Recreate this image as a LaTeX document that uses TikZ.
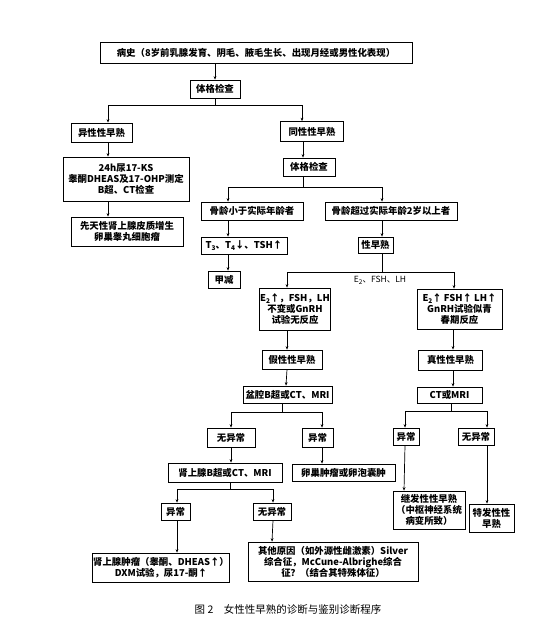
\documentclass[tikz,border=0pt]{standalone}
\usepackage{fontspec}
\newfontfamily\cjk{Noto Sans CJK SC}
\usetikzlibrary{arrows.meta}
\newcommand\mysub[1]{\raisebox{-0.4ex}{\fontsize{6.5}{6.5}\selectfont #1}}
\begin{document}
\begin{tikzpicture}[x=1pt,y=-1pt,
  box/.style={draw, line width=0.8pt, inner sep=1pt, align=center,
    font=\cjk\bfseries\fontsize{9.4}{11}\selectfont},
  arr/.style={line width=0.7pt, -{Stealth[length=3.4pt,width=2.8pt]}},
  ln/.style={line width=0.7pt},
  lbl/.style={font=\cjk\fontsize{8.5}{10}\selectfont, inner sep=1pt}]
\useasboundingbox (0,0) rectangle (554,634);
\fill[white] (0,0) rectangle (554,634);
% nodes
\node[box, minimum width=312pt, minimum height=21pt] (bs) at (256,52.5) {病史（8岁前乳腺发育、阴毛、腋毛生长、出现月经或男性化表现）};
\node[box, minimum width=50pt, minimum height=18pt] (tg1) at (215,89) {体格检查};
\node[box, minimum width=61pt, minimum height=19pt] (yx) at (101.5,132.5) {异性性早熟};
\node[box, minimum width=63pt, minimum height=20pt] (ts) at (312,131.5) {同性性早熟};
\node[box, minimum width=126pt, minimum height=44pt] (kyt) at (126,179) {24h尿17-KS\\睾酮DHEAS及17-OHP测定\\B超、CT检查};
\node[box, minimum width=112pt, minimum height=29pt] (xt) at (127,231.5) {先天性肾上腺皮质增生\\卵巢睾丸细胞瘤};
\node[box, minimum width=52pt, minimum height=18pt] (tg2) at (309,167) {体格检查};
\node[box, minimum width=102pt, minimum height=18pt] (gl1) at (252,211) {骨龄小于实际年龄者};
\node[box, minimum width=132pt, minimum height=18pt] (gl2) at (391,211) {骨龄超过实际年龄2岁以上者};
\node[box, minimum width=86pt, minimum height=17pt] (t3) at (244,245.5) {T\mysub{3}、T\mysub{4}↓、TSH↑};
\node[box, minimum width=32pt, minimum height=17pt] (jj) at (224,279.5) {甲减};
\node[box, minimum width=35pt, minimum height=16pt] (xzs) at (375.5,245) {性早熟};
\node[box, minimum width=64pt, minimum height=42pt] (e1) at (295,309) {E\mysub{2}↑，FSH，LH\\不变或GnRH\\试验无反应};
\node[box, minimum width=85pt, minimum height=40pt] (e2) at (459.5,309) {E\mysub{2}↑ FSH↑ LH↑\\GnRH试验似青\\春期反应};
\node[box, minimum width=60pt, minimum height=19pt] (jx) at (292,359.5) {假性性早熟};
\node[box, minimum width=89pt, minimum height=17pt] (px) at (287.5,394.5) {盆腔B超或CT、MRI};
\node[box, minimum width=48pt, minimum height=19pt] (wy1) at (231,437.5) {无异常};
\node[box, minimum width=31pt, minimum height=19pt] (yc1) at (317.5,437.5) {异常};
\node[box, minimum width=114pt, minimum height=19pt] (sg) at (225,472.5) {肾上腺B超或CT、MRI};
\node[box, minimum width=103pt, minimum height=17pt] (lc) at (343.5,472.5) {卵巢肿瘤或卵泡囊肿};
\node[box, minimum width=29pt, minimum height=17pt] (yc2) at (175.5,511.5) {异常};
\node[box, minimum width=38pt, minimum height=17pt] (wy2) at (272,511.5) {无异常};
\node[box, minimum width=134pt, minimum height=29pt] (sz) at (161,567.5) {肾上腺肿瘤（睾酮、DHEAS↑）\\DXM试验，尿17-酮↑};
\node[box, minimum width=170pt, minimum height=39pt] (qt) at (333,561.5) {其他原因（如外源性雌激素）Silver\\综合征，McCune-Albrighe综合\\征？（结合其特殊体征）};
\node[box, minimum width=64pt, minimum height=20pt] (zx) at (450.5,360) {真性性早熟};
\node[box, minimum width=65pt, minimum height=16pt] (ct) at (449.5,395) {CT或MRI};
\node[box, minimum width=26pt, minimum height=17pt] (yc3) at (406,436.5) {异常};
\node[box, minimum width=36pt, minimum height=17pt] (wy3) at (476,436.5) {无异常};
\node[box, minimum width=72pt, minimum height=38pt] (jf) at (429,510) {继发性性早熟\\（中枢神经系统\\病变所致）};
\node[box, minimum width=45pt, minimum height=28pt] (tf) at (491.5,518) {特发性性\\早熟};
\node[font=\cjk\fontsize{10.5}{12}\selectfont] (cap) at (288,609) {图 2\quad 女性性早熟的诊断与鉴别诊断程序};
% junctions
\coordinate (j1) at (215,105);
\coordinate (j2) at (303,187);
\coordinate (j3) at (382,272);
\coordinate (j4) at (282,412);
\coordinate (j5) at (230,489);
\coordinate (j6) at (451,411);
% connectors
\draw[arr] (bs.south -| tg1.north) -- (tg1.north);
\draw[ln] (tg1.south) -- (j1);
\draw[arr] (j1) -| ([xshift=6.5pt]yx.north);
\draw[arr] (j1) -| ([xshift=-10pt]ts.north);
\draw[arr] ([xshift=6.5pt]yx.south) -- ([xshift=-18pt]kyt.north);
\draw[arr] ([xshift=-18pt]kyt.south) -- ([xshift=-19pt]xt.north);
\draw[arr] ([xshift=-9pt]ts.south) -- ([xshift=-6pt]tg2.north);
\draw[ln] ([xshift=-6pt]tg2.south) -- (j2);
\draw[arr] (j2) -| ([xshift=-24pt]gl1.north);
\draw[arr] (j2) -| ([xshift=-9pt]gl2.north);
\draw[arr] ([xshift=-24pt]gl1.south) -- ([xshift=-16pt]t3.north);
\draw[arr] ([xshift=-16pt]t3.south) -- ([xshift=4pt]jj.north);
\draw[arr] ([xshift=-9pt]gl2.south) -- ([xshift=6.5pt]xzs.north);
\draw[ln] ([xshift=6.5pt]xzs.south) -- (j3);
\draw[arr] (j3) -| ([xshift=-8pt]e1.north);
\draw[arr] (j3) -| ([xshift=-5.5pt]e2.north);
\node[lbl] (lab) at (380,280.5) {E\mysub{2}、FSH、LH};
\draw[arr] ([xshift=-8pt]e1.south) -- ([xshift=-5pt]jx.north);
\draw[arr] ([xshift=-5pt]jx.south) -- ([xshift=-1.5pt]px.north);
\draw[ln] ([xshift=-5.5pt]px.south) -- (j4);
\draw[arr] (j4) -| (wy1.north);
\draw[arr] (j4) -| ([xshift=4.5pt]yc1.north);
\draw[arr] (wy1.south) -- ([xshift=6pt]sg.north);
\draw[arr] ([xshift=4.5pt]yc1.south) -- ([xshift=-21.5pt]lc.north);
\draw[ln] ([xshift=5pt]sg.south) -- (j5);
\draw[arr] (j5) -| ([xshift=1.5pt]yc2.north);
\draw[arr] (j5) -| ([xshift=1pt]wy2.north);
\draw[arr] ([xshift=1.5pt]yc2.south) -- ([xshift=16pt]sz.north);
\draw[arr] ([xshift=1pt]wy2.south) -- ([xshift=-61pt]qt.north);
\draw[arr] ([xshift=-6.5pt]e2.south) -- ([xshift=2.5pt]zx.north);
\draw[arr] ([xshift=2.5pt]zx.south) -- ([xshift=3.5pt]ct.north);
\draw[ln] ([xshift=1.5pt]ct.south) -- (j6);
\draw[arr] (j6) -| ([xshift=-1pt]yc3.north);
\draw[arr] (j6) -| ([xshift=11pt]wy3.north);
\draw[arr] ([xshift=-1pt]yc3.south) -- ([xshift=-25pt]jf.north);
\draw[arr] ([xshift=11pt]wy3.south) -- ([xshift=-4.5pt]tf.north);
\end{tikzpicture}
\end{document}
